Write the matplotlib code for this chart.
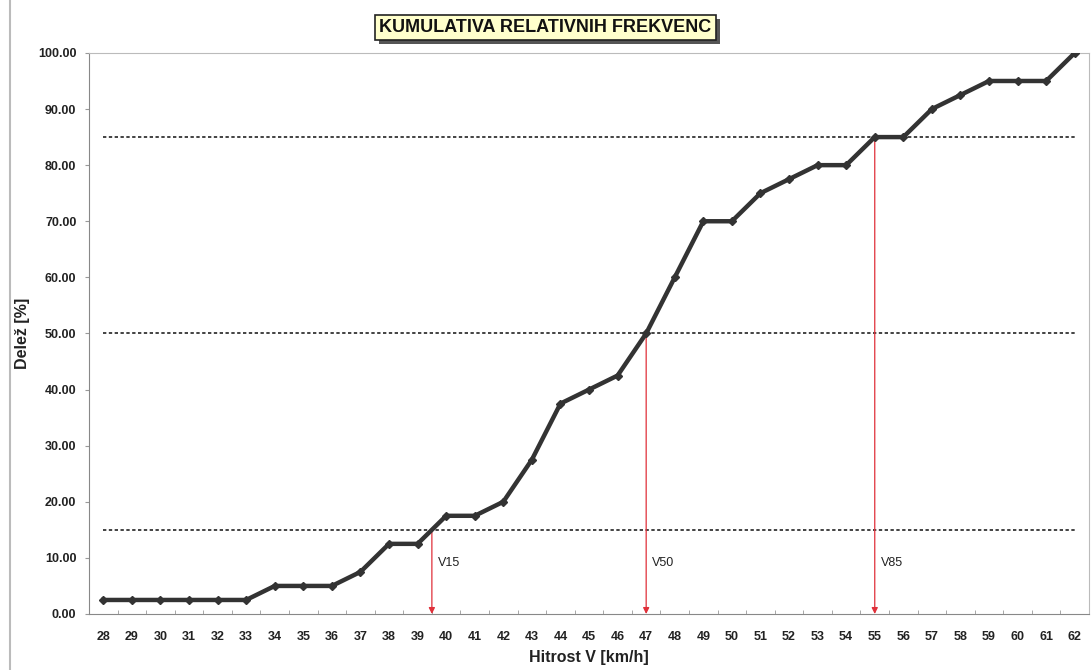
import matplotlib
matplotlib.use("Agg")
import matplotlib.pyplot as plt
from matplotlib.lines import Line2D
from matplotlib.patches import Rectangle
from matplotlib.ticker import FixedLocator, FormatStrFormatter

plt.rcParams["font.family"] = ["Liberation Sans", "DejaVu Sans"]

# ── Data ─────────────────────────────────────────────────────────────────────

speeds = list(range(28, 63))
cum_share = [2.5, 2.5, 2.5, 2.5, 2.5, 2.5, 5.0, 5.0, 5.0, 7.5,
             12.5, 12.5, 17.5, 17.5, 20.0, 27.5, 37.5, 40.0, 42.5, 50.0,
             60.0, 70.0, 70.0, 75.0, 77.5, 80.0, 80.0, 85.0, 85.0, 90.0,
             92.5, 95.0, 95.0, 95.0, 100.0]
levels = [15, 50, 85]
level_speeds = [39.5, 47, 55]
level_names = ["V15", "V50", "V85"]

# ── Figure ───────────────────────────────────────────────────────────────────

fig = plt.figure(figsize=(10.92, 6.70), dpi=100)
ax = fig.add_axes([0.0815, 0.0836, 0.9158, 0.8374])

pos = [s - speeds[0] for s in speeds]
ax.plot(pos, cum_share, color="#333333", lw=3.2, marker="D", ms=4,
        mfc="#333333", mec="#333333", zorder=4, solid_joinstyle="round")

for lev in levels:
    ax.plot([pos[0], pos[-1]], [lev, lev], color="#222222", lw=1.2,
            ls=(0, (2, 1.5)), zorder=2)

for lev, sp, name in zip(levels, level_speeds, level_names):
    x = sp - speeds[0]
    ax.annotate("", xy=(x, 0), xytext=(x, lev),
                arrowprops=dict(arrowstyle="-|>", color="#e0303a", lw=0.9,
                                mutation_scale=9, shrinkA=0, shrinkB=0),
                zorder=3)
    ax.text(x + 0.2, 9.0, name, fontsize=9, color="#222222",
            ha="left", va="center")

ax.set_xlim(-0.5, len(speeds) - 0.5)
ax.set_ylim(0, 100)
ax.set_xticks(pos)
ax.set_xticklabels([str(s) for s in speeds], fontsize=9, fontweight="bold",
                   color="#222222")
ax.xaxis.set_minor_locator(FixedLocator([p + 0.5 for p in pos[:-1]]))
ax.tick_params(axis="x", which="major", length=0, pad=12)
ax.tick_params(axis="x", which="minor", length=3, color="#999999",
               direction="in")
ax.set_yticks(range(0, 101, 10))
ax.yaxis.set_major_formatter(FormatStrFormatter("%.2f"))
ax.tick_params(axis="y", length=3, color="#999999", labelsize=9,
               labelcolor="#222222", pad=6)
for lab in ax.get_yticklabels():
    lab.set_fontweight("bold")

for side in ["left", "bottom"]:
    ax.spines[side].set_color("#888888")
for side in ["top", "right"]:
    ax.spines[side].set_color("#bbbbbb")

ax.set_xlabel("Hitrost V [km/h]", fontsize=11.5, fontweight="bold",
              color="#222222", labelpad=5)
ax.set_ylabel("Delež [%]", fontsize=11.5, fontweight="bold",
              color="#222222", labelpad=6)

# title box with a drop shadow (shadow drawn as a plain rectangle)
title = fig.text(0.4995, 0.959, "KUMULATIVA RELATIVNIH FREKVENC",
                 fontsize=13, fontweight="bold", ha="center", va="center",
                 color="#111111", zorder=3,
                 bbox=dict(boxstyle="square,pad=0.22", fc="#ffffcc",
                           ec="#222222", lw=1.2))
fig.canvas.draw()
bb = title.get_bbox_patch().get_window_extent()
bb = bb.transformed(fig.transFigure.inverted())
dx, dy = 4 / 1092, 4 / 670
fig.add_artist(Rectangle((bb.x0 + dx, bb.y0 - dy), bb.width, bb.height,
                         transform=fig.transFigure, fc="#555555",
                         ec="none", zorder=2))

fig.add_artist(Line2D([0.009, 0.009], [0.0, 1.0], color="#bbbbbb", lw=1.5,
                      transform=fig.transFigure))

fig.savefig("out.png", dpi=100)
